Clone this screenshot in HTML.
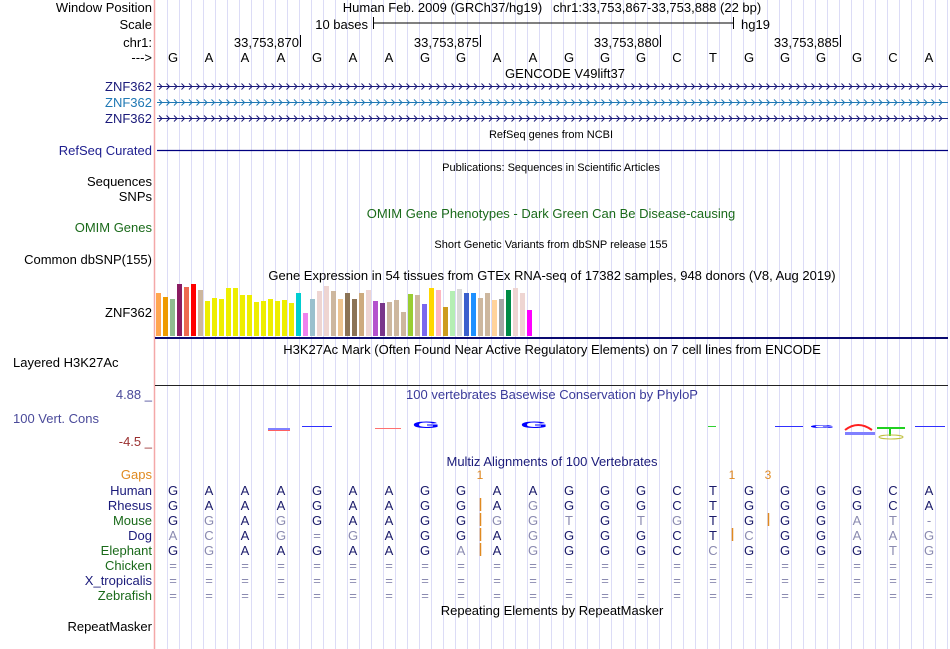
<!DOCTYPE html>
<html><head><meta charset="utf-8"><style>
html,body{margin:0;padding:0;background:#fff;}
svg{display:block;font-family:"Liberation Sans",Arial,sans-serif;}
</style></head><body>
<svg id="chart" width="950" height="649" viewBox="0 0 950 649" xmlns="http://www.w3.org/2000/svg">
<rect width="950" height="649" fill="#fff"/>
<g id="grid"></g>
<line x1="154.5" y1="0" x2="154.5" y2="649" stroke="#f4a8a8" stroke-width="1.5"/>
<g id="content" font-size="13"></g>
</svg>
<script>
// ---------------- data ----------------
const bases = ["G","A","A","A","G","A","A","G","G","A","A","G","G","G","C","T","G","G","G","G","C","A"];
const posTicks = ["33,753,870","33,753,875","33,753,880","33,753,885"];
const posTickBase = [4,9,14,19];
const gtexValues = [43,39,37,52,49,52,46,35,38,37,48,48,41,41,34,35,37,35,36,33,43,23,37,45,50,45,37,43,37,43,46,35,33,34,36,24,42,41,32,48,46,29,45,47,43,43,38,43,36,37,46,48,43,26];
const gtexColors = ["#FFA54F","#EE9A00","#8FBC8F","#8B1C62","#EE6A50","#FF0000","#CDB79E","#EEEE00","#EEEE00","#EEEE00","#EEEE00","#EEEE00","#EEEE00","#EEEE00","#EEEE00","#EEEE00","#EEEE00","#EEEE00","#EEEE00","#EEEE00","#00CED1","#EE82EE","#9AC0CD","#EED5D2","#EED5D2","#CDB79E","#EEC591","#8B7355","#8B7355","#CDAA7D","#EED5D2","#B452CD","#7A378B","#CDB79E","#CDB79E","#CDB79E","#9ACD32","#CDB79E","#7B68EE","#FFD700","#FFB6C1","#CD9B1D","#B4EEB4","#D9D9D9","#3A5FCD","#1E90FF","#CDB79E","#CDB79E","#FFD39B","#A6A6A6","#008B45","#EED5D2","#EED5D2","#FF00FF"];
const species = ["Human","Rhesus","Mouse","Dog","Elephant","Chicken","X_tropicalis","Zebrafish"];
const speciesColors = ["#1a1a7a","#1a1a7a","#1a6a1a","#1a1a7a","#1a6a1a","#1a6a1a","#1a1a7a","#1a6a1a"];
// lowercase = mismatch (light)
const alignRows = [
 "GAAAGAAGGAAGGGCTGGGGCA",
 "GAAAGAAGGAgGGGCTGGGGCA",
 "GgAgGAAGGggtGtgTGGGat-",
 "acAg=gAGGAgGGGCTcGGaag",
 "GgAAGAAGaAgGGGCcGGGGtg",
 "======================",
 "======================",
 "======================"
];
// insertion position = base boundary index, rows affected
const gapMarks = [[9,[1,2,3,4]],[16,[3]],[17,[2]]];
const gapLabels = [[9,"1"],[16,"1"],[17,"3"]];

// ---------------- helpers ----------------
const NS="http://www.w3.org/2000/svg";
const C=document.getElementById('content');
const X0=155, BW=36;
const bx=i=>X0+BW*i+BW/2;
function el(tag,attrs,parent,txt){const e=document.createElementNS(NS,tag);for(const k in attrs)e.setAttribute(k,attrs[k]);if(txt!==undefined)e.textContent=txt;(parent||C).appendChild(e);return e;}

// grid
const G=document.getElementById('grid');
for(let x=X0+12;x<950;x+=12){
 const l=el('line',{x1:x+0.5,y1:0,x2:x+0.5,y2:649,stroke:'#dcdcf6','stroke-width':1},G);
 
 
}

function label(txt,y,color,name,anchor,x,size){
 const t=el('text',{x:x===undefined?152:x,y:y,'text-anchor':anchor||'end',fill:color||'#000','font-size':size||13},C,txt);
 
 
 return t;
}
function title(txt,y,color,name,size,cx){
 const t=el('text',{x:cx||551,y:y,'text-anchor':'middle',fill:color||'#000','font-size':size||13},C,txt);
 
 
 return t;
}

// header
label('Window Position',12,'#000','window-position-label');
label('Scale',29,'#000','scale-label');
label('chr1:',47,'#000','chr-label');
label('--->',62,'#000','strand-label');
title('Human Feb. 2009 (GRCh37/hg19)\u00a0\u00a0\u00a0chr1:33,753,867-33,753,888 (22 bp)',12,'#000','window-position-text',13,552);
const sb=el('text',{x:368,y:29,'text-anchor':'end','font-size':13},C,'10 bases');


el('path',{d:'M373.5 17V29M373 23H733M733.5 17V29',stroke:'#000','stroke-width':1,fill:'none',});
label('hg19',29,'#000','assembly-label','start',741);
posTickBase.forEach((b,i)=>{
 const tx=X0+BW*b+1;
 const l=el('line',{x1:tx+0.5,y1:35,x2:tx+0.5,y2:47,stroke:'#000'});
 
 
 const t=el('text',{x:tx-1,y:47,'text-anchor':'end','font-size':13},C,posTicks[i]);
 
 
});
bases.forEach((b,i)=>{
 const t=el('text',{x:bx(i),y:62,'text-anchor':'middle','font-size':13},C,b);
 
 
});

// GENCODE
title('GENCODE V49lift37',78,'#000','gencode-title',13,565);
const geneCols=['#1a1a7a','#1f78b4','#1a1a7a'];
[91,107,123].forEach((y,i)=>{
 label('ZNF362',y,geneCols[i],'gene-label-znf362');
 const g=el('g',{});
 
 
 const cy=y-4.5;
 let d='M157 '+cy+'H948';
 for(let x=159;x<946;x+=7.5){d+=`M${x.toFixed(1)} ${cy-3}L${(x+3).toFixed(1)} ${cy}L${x.toFixed(1)} ${cy+3}`;}
 el('path',{d:d,stroke:geneCols[i],'stroke-width':1,fill:'none'},g);
});

// RefSeq
title('RefSeq genes from NCBI',138,'#000','refseq-title',11);
label('RefSeq Curated',155,'#202090','refseq-curated-label');
el('line',{x1:157,y1:150.5,x2:948,y2:150.5,stroke:'#000080','stroke-width':1.2,});
title('Publications: Sequences in Scientific Articles',171,'#000','publications-title',11);
label('Sequences',186,'#000','publications-label');
label('SNPs',201,'#000','publications-label-2');
title('OMIM Gene Phenotypes - Dark Green Can Be Disease-causing',218,'#1a6a1a','omim-title');
label('OMIM Genes',232,'#1a6a1a','omim-genes-label');
title('Short Genetic Variants from dbSNP release 155',248,'#000','dbsnp-title',11);
label('Common dbSNP(155)',264,'#000','dbsnp-label');

// GTEx
title('Gene Expression in 54 tissues from GTEx RNA-seq of 17382 samples, 948 donors (V8, Aug 2019)',280,'#000','gtex-title',13,552);
label('ZNF362',317,'#000','gtex-gene-label');
const gtexBase=336, gtexScale=1.0, gtexStep=7, gtexX0=156;
gtexValues.forEach((v,i)=>{
 const h=v*gtexScale;
 const r=el('rect',{x:gtexX0+gtexStep*i,y:gtexBase-h,width:5,height:h,fill:gtexColors[i]});
 
 
});
el('line',{x1:155,y1:338,x2:948,y2:338,stroke:'#0a0a70','stroke-width':2,});

// H3K27Ac
title('H3K27Ac Mark (Often Found Near Active Regulatory Elements) on 7 cell lines from ENCODE',354,'#000','h3k27ac-title',13,552);
label('Layered H3K27Ac',367,'#000','h3k27ac-label','start',13);
el('line',{x1:155,y1:385.5,x2:948,y2:385.5,stroke:'#222','stroke-width':1,});

// conservation
label('4.88 _',399,'#4a4a9a','cons-max-label');
label('100 Vert. Cons',423,'#4a4a9a','cons-label','start',13);
label('-4.5 _',446,'#9a3030','cons-min-label');
title('100 vertebrates Basewise Conservation by PhyloP',399,'#3a3a9a','phylop-title',13,552);
const cg=el('g',{});


[[268,428,22,2,'#8080ff'],[268,430,22,1,'#ff6060'],[302,426,30,1,'#3030ff'],[375,428,26,1,'#ff7070'],[708,426,8,1,'#30d030'],[775,426,28,1,'#3030ff'],[845,432,30,3,'#8080ff'],[915,426,30,1,'#3030ff']].forEach(a=>{
 el('rect',{x:a[0],y:a[1],width:a[2],height:a[3],fill:a[4]},cg);
});
[[426,'#0000ff',428,2.2,0.55],[534,'#0000ff',428,2.2,0.55],[822,'#0000ff',428,2.0,0.3]].forEach(a=>{
 el('text',{x:0,y:0,'text-anchor':'middle','font-size':16,'font-weight':'bold',fill:a[1],transform:`translate(${a[0]},${a[2]}) scale(${a[3]},${a[4]})`},cg,'G');
});
el('path',{d:'M845 430 Q858 420 872 430',stroke:'#ff2020','stroke-width':2,fill:'none'},cg);
el('path',{d:'M877 428H905M890 428V436',stroke:'#20d020','stroke-width':2,fill:'none'},cg);
el('ellipse',{cx:891,cy:437,rx:12,ry:2,fill:'none',stroke:'#c0c040','stroke-width':1},cg);

// Multiz
title('Multiz Alignments of 100 Vertebrates',466,'#1a1a7a','multiz-title',13,552);
label('Gaps',479,'#e08a20','gaps-label');
gapLabels.forEach(g=>{
 const t=el('text',{x:X0+BW*g[0]+1,y:479,'text-anchor':'middle','font-size':12,fill:'#e08a20'},C,g[1]);
 
 
});
const rowY0=495, rowH=15;
species.forEach((s,r)=>{
 label(s,rowY0+rowH*r,speciesColors[r],'species-label-'+s.toLowerCase().replace('_','-'));
 const row=alignRows[r];
 for(let i=0;i<row.length;i++){
  const ch=row[i];
  const lt=(ch!==ch.toUpperCase())||ch==='='||ch==='-';
  const t=el('text',{x:bx(i),y:rowY0+rowH*r,'text-anchor':'middle','font-size':13,fill:lt?'#8a8ab0':'#1a1a6a'},C,ch.toUpperCase());
  
  
 }
});
gapMarks.forEach(g=>{
 g[1].forEach(r=>{
  const x=X0+BW*g[0]+1.5;
  const m=el('line',{x1:x,y1:rowY0+rowH*r-12,x2:x,y2:rowY0+rowH*r+1,stroke:'#e08a20','stroke-width':1.5});
  
  
 });
});

// RepeatMasker
title('Repeating Elements by RepeatMasker',615,'#000','repeatmasker-title',13,552);
label('RepeatMasker',631,'#000','repeatmasker-label');
</script>
</body></html>
